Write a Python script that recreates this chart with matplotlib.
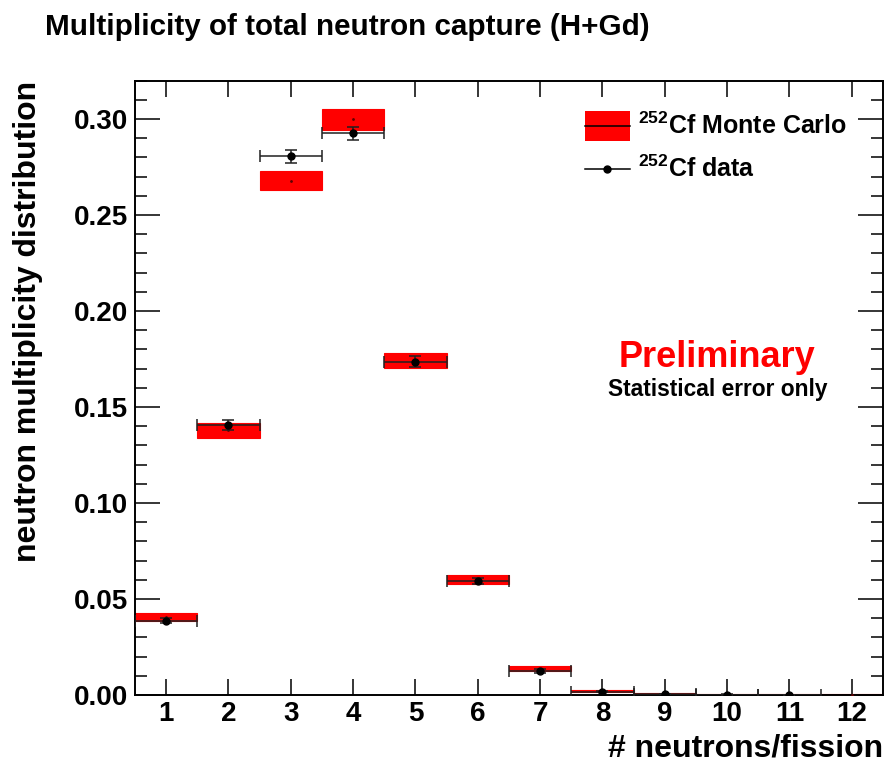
import numpy as np
import matplotlib
matplotlib.use("Agg")
import matplotlib.pyplot as plt
from matplotlib.patches import Rectangle
from matplotlib.lines import Line2D
from matplotlib.ticker import MultipleLocator, FormatStrFormatter

plt.rcParams['font.family'] = ['Liberation Sans', 'DejaVu Sans']
plt.rcParams['font.weight'] = 'bold'
plt.rcParams['mathtext.fontset'] = 'custom'
plt.rcParams['mathtext.rm'] = 'Liberation Sans:bold'
plt.rcParams['mathtext.bf'] = 'Liberation Sans:bold'
plt.rcParams['mathtext.default'] = 'bf'

# neutron multiplicity per fission
n_bins = np.arange(1, 13)

# Monte Carlo: bin content and statistical error
mc_val = [0.0407, 0.1378, 0.2680, 0.3000, 0.1743, 0.0601,
          0.0137, 0.0022, 0.0008, 0.0003, 0.0002, 0.0002]
mc_err = [0.0022, 0.0038, 0.0051, 0.0055, 0.0039, 0.0024,
          0.0014, 0.0005, 0.0003, 0.0002, 0.0001, 0.0001]

# measured data (bin 12 is empty)
data_bins = np.arange(1, 12)
data_val = [0.0387, 0.1407, 0.2806, 0.2925, 0.1736, 0.0596,
            0.0125, 0.0017, 0.0004, 0.0002, 0.0001]
data_err = [0.0012, 0.0026, 0.0035, 0.0036, 0.0028, 0.0016,
            0.0008, 0.0003, 0.0001, 0.0001, 0.0001]

fig = plt.figure(figsize=(8.85, 7.64), dpi=100)
ax = fig.add_axes([0.1525, 0.0903, 0.8452, 0.8041])

# MC error band boxes (ROOT E2 style)
for x, v, e in zip(n_bins, mc_val, mc_err):
    ax.add_patch(Rectangle((x - 0.5, v - e), 1.0, 2 * e,
                           facecolor='#ff0000', edgecolor='#ff0000', lw=0.8, zorder=2))
ax.plot(n_bins, mc_val, 'o', color='#600000', ms=1.0, zorder=3)

# data points with bin-width x errors
ax.errorbar(data_bins, data_val, xerr=0.5, yerr=data_err, fmt='o', color='black',
            ecolor='#202020', ms=5, elinewidth=1.1, capsize=4, capthick=1.1, zorder=4)

ax.set_xlim(0.5, 12.5)
ax.set_ylim(0, 0.32)
ax.xaxis.set_major_locator(MultipleLocator(1))
ax.yaxis.set_major_locator(MultipleLocator(0.05))
ax.yaxis.set_minor_locator(MultipleLocator(0.01))
ax.yaxis.set_major_formatter(FormatStrFormatter('%.2f'))

ax.tick_params(axis='both', which='both', direction='in', top=True, right=True, width=1.1)
ax.tick_params(axis='y', which='major', length=18, labelsize=20, pad=5)
ax.tick_params(axis='y', which='minor', length=8.6)
ax.tick_params(axis='x', which='major', length=11.5, labelsize=20, pad=4)
for lbl in ax.get_xticklabels() + ax.get_yticklabels():
    lbl.set_fontweight('bold')
for sp in ax.spines.values():
    sp.set_linewidth(1.4)

ax.set_xlabel('# neutrons/fission', fontsize=23, fontweight='bold', loc='right')
ax.xaxis.set_label_coords(1.0, -0.062)
ax.set_ylabel('neutron multiplicity distribution', fontsize=23, fontweight='bold', loc='top')
ax.yaxis.set_label_coords(-0.123, 1.0)

fig.text(0.0508, 0.9647, 'Multiplicity of total neutron capture (H+Gd)',
         fontsize=21.3, fontweight='bold', ha='left', va='center')

# legend
ax.add_patch(Rectangle((0.6016, 0.9023), 0.0602, 0.0484, transform=ax.transAxes,
                       facecolor='#ff0000', edgecolor='none', zorder=5))
ax.add_line(Line2D([0.6016, 0.6618], [0.9266, 0.9266], transform=ax.transAxes,
                   color='black', lw=1.1, zorder=6))
ax.text(0.6725, 0.9266, r'$^{252}$Cf Monte Carlo', transform=ax.transAxes,
        fontsize=18, fontweight='bold', ha='left', va='center')
ax.add_line(Line2D([0.6016, 0.6618], [0.8563, 0.8563], transform=ax.transAxes,
                   color='black', lw=1.1, zorder=6))
ax.plot([0.6317], [0.8563], 'o', color='black', ms=5, transform=ax.transAxes, zorder=6)
ax.text(0.6725, 0.8563, r'$^{252}$Cf data', transform=ax.transAxes,
        fontsize=18, fontweight='bold', ha='left', va='center')

ax.text(0.778, 0.5486, 'Preliminary', transform=ax.transAxes, color='#ff0000',
        fontsize=26, fontweight='bold', ha='center', va='center')
ax.text(0.779, 0.4965, 'Statistical error only', transform=ax.transAxes,
        fontsize=16.4, fontweight='bold', ha='center', va='center')

fig.savefig('out.png', dpi=100)
